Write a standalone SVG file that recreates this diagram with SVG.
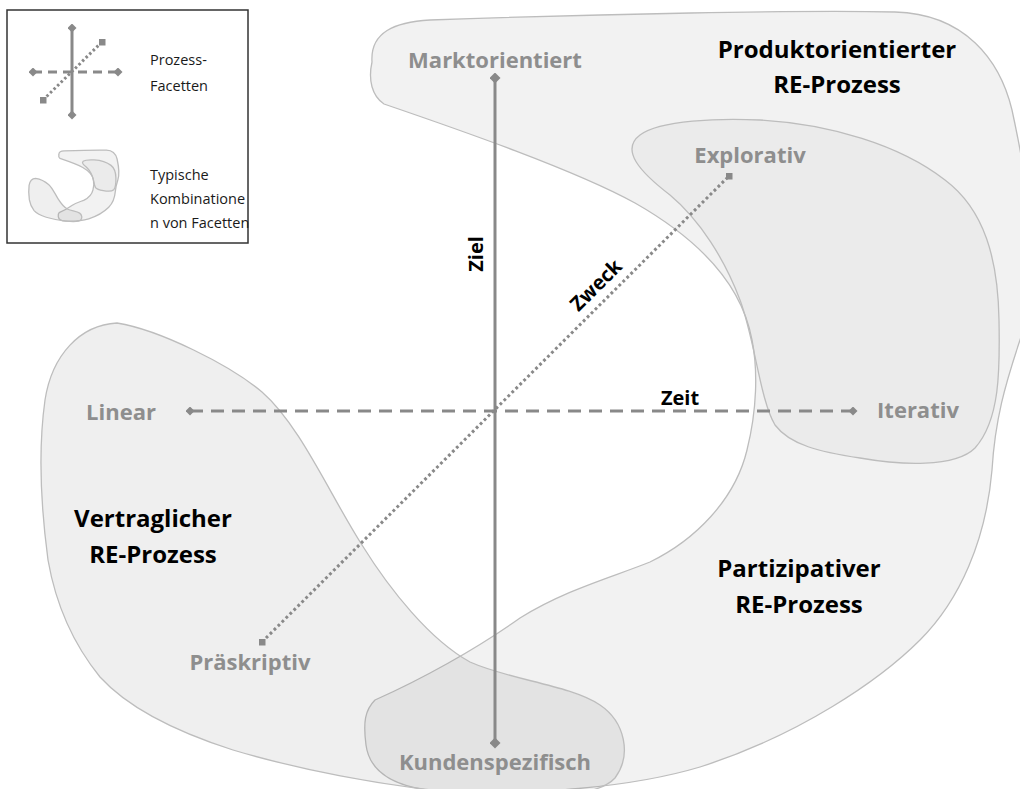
<svg xmlns="http://www.w3.org/2000/svg" xmlns:xlink="http://www.w3.org/1999/xlink" width="1020" height="789" viewBox="0 0 1020 789">
<style>
.region{stroke:#bdbdbd;stroke-width:1.3;fill:#808080;vector-effect:non-scaling-stroke}
.gl{font-family:"Open Sans","Liberation Sans",sans-serif;font-weight:bold;font-size:22px;fill:#8e8e8e;text-anchor:middle}
.bl{font-family:"Open Sans","Liberation Sans",sans-serif;font-weight:bold;font-size:24px;fill:#000;text-anchor:middle}
.ax{font-family:"Open Sans","Liberation Sans",sans-serif;font-weight:bold;font-size:20px;fill:#000;text-anchor:middle}
.lg{font-family:"Open Sans","Liberation Sans",sans-serif;font-size:14.5px;fill:#1a1a1a}
.axis{stroke:#898989;stroke-width:3;fill:none}
</style>
<defs>
<marker id="dia" markerUnits="userSpaceOnUse" markerWidth="11" markerHeight="11" refX="5.5" refY="5.5" orient="auto"><path d="M0,5.5 L5.5,0 L11,5.5 L5.5,11 Z" fill="#898989"/></marker>
<marker id="dias" markerUnits="userSpaceOnUse" markerWidth="9" markerHeight="9" refX="4.5" refY="4.5" orient="auto"><path d="M0,4.5 L4.5,0 L9,4.5 L4.5,9 Z" fill="#898989"/></marker>
<marker id="sq" markerUnits="userSpaceOnUse" markerWidth="7" markerHeight="7" refX="3.5" refY="3.5" orient="0"><rect x="0" y="0" width="7" height="7" fill="#898989"/></marker>
<path id="shC" class="region" fill-opacity="0.1" d="M372,62 C370,32 395,22 430,20 C600,14 800,10 895,12 C965,14 1000,60 1012,110 C1025,170 1045,270 1020,340 C1005,385 995,420 992,470 C986,540 960,600 920,640 C880,680 800,735 700,767 C630,788 530,795 450,792 C400,790 370,775 366,745 C363,722 365,710 375,700 C420,680 475,650 520,618 C565,590 610,578 650,562 C695,540 735,500 747,450 C757,410 758,370 752,340 C742,285 700,240 635,203 C575,170 460,130 384,104 C372,96 368,80 372,62 Z"/>
<path id="shE" class="region" fill-opacity="0.06" d="M640,135 C660,120 720,118 760,120 C830,124 900,145 945,180 C985,210 998,260 999,320 C1000,370 1000,420 975,448 C955,468 900,465 860,458 C820,452 790,445 775,425 C760,400 755,340 740,300 C725,260 700,220 670,195 C640,172 620,150 640,135 Z"/>
<path id="shV" class="region" fill-opacity="0.125" d="M117,323 C160,330 230,365 262,392 C300,425 330,495 362,545 C390,590 430,640 470,662 C510,680 570,685 600,705 C625,722 632,755 615,778 C595,800 520,800 450,792 C380,785 300,770 233,750 C180,733 130,710 100,677 C70,640 55,600 48,560 C40,500 38,450 45,400 C52,355 80,325 117,323 Z"/>
</defs>
<rect width="1020" height="789" fill="#fff"/>

<g id="legend">
<rect x="7" y="10" width="241" height="233" fill="#fff" stroke="#333" stroke-width="1.5"/>
<g id="legend-axes">
<line class="axis" x1="72" y1="28" x2="72" y2="115" marker-start="url(#dias)" marker-end="url(#dias)"/>
<line class="axis" x1="33" y1="72" x2="118" y2="72" stroke-dasharray="9 6" marker-start="url(#dias)" marker-end="url(#dias)"/>
<line class="axis" x1="43" y1="100" x2="102" y2="42" stroke-dasharray="2.5 2.5" marker-start="url(#sq)" marker-end="url(#sq)"/>
</g>
<g id="legend-shapes" transform="translate(25,149) scale(0.091)">
<use xlink:href="#shC"/>
<use xlink:href="#shE"/>
<use xlink:href="#shV"/>
</g>
<text class="lg" x="150" y="65">Prozess-</text>
<text class="lg" x="150" y="91">Facetten</text>
<text class="lg" x="150" y="180">Typische</text>
<text class="lg" x="150" y="204">Kombinatione</text>
<text class="lg" x="150" y="228">n von Facetten</text>
</g>

<g id="produktorientiert">
<use xlink:href="#shC"/>
<text class="bl" x="837" y="58">Produktorientierter</text>
<text class="bl" x="837" y="93">RE-Prozess</text>
</g>
<g id="partizipativ">
<text class="bl" x="799" y="577">Partizipativer</text>
<text class="bl" x="799" y="613">RE-Prozess</text>
</g>
<g id="explorativ-region">
<use xlink:href="#shE"/>
</g>
<g id="vertraglich">
<use xlink:href="#shV"/>
<text class="bl" x="153" y="527">Vertraglicher</text>
<text class="bl" x="153" y="563">RE-Prozess</text>
</g>

<g id="connectors">
<line class="axis" x1="495" y1="78" x2="495" y2="743" marker-start="url(#dia)" marker-end="url(#dia)"/>
<line class="axis" x1="190" y1="411" x2="853" y2="411" stroke-dasharray="13 8" marker-start="url(#dias)" marker-end="url(#dias)"/>
<line class="axis" x1="262" y1="642" x2="729" y2="176" stroke-dasharray="2.8 2.8" marker-start="url(#sq)" marker-end="url(#sq)"/>
<text class="ax" transform="translate(483,254) rotate(-90)">Ziel</text>
<text class="ax" transform="translate(601,290) rotate(-44.9)">Zweck</text>
<text class="ax" x="680" y="405">Zeit</text>
</g>

<g id="poles">
<text id="marktorientiert" class="gl" x="495" y="68">Marktorientiert</text>
<text id="explorativ" class="gl" x="750" y="163">Explorativ</text>
<text id="linear" class="gl" x="121" y="420">Linear</text>
<text id="iterativ" class="gl" x="918" y="418">Iterativ</text>
<text id="praeskriptiv" class="gl" x="250" y="670">Präskriptiv</text>
<text id="kundenspezifisch" class="gl" x="495" y="770">Kundenspezifisch</text>
</g>
</svg>
